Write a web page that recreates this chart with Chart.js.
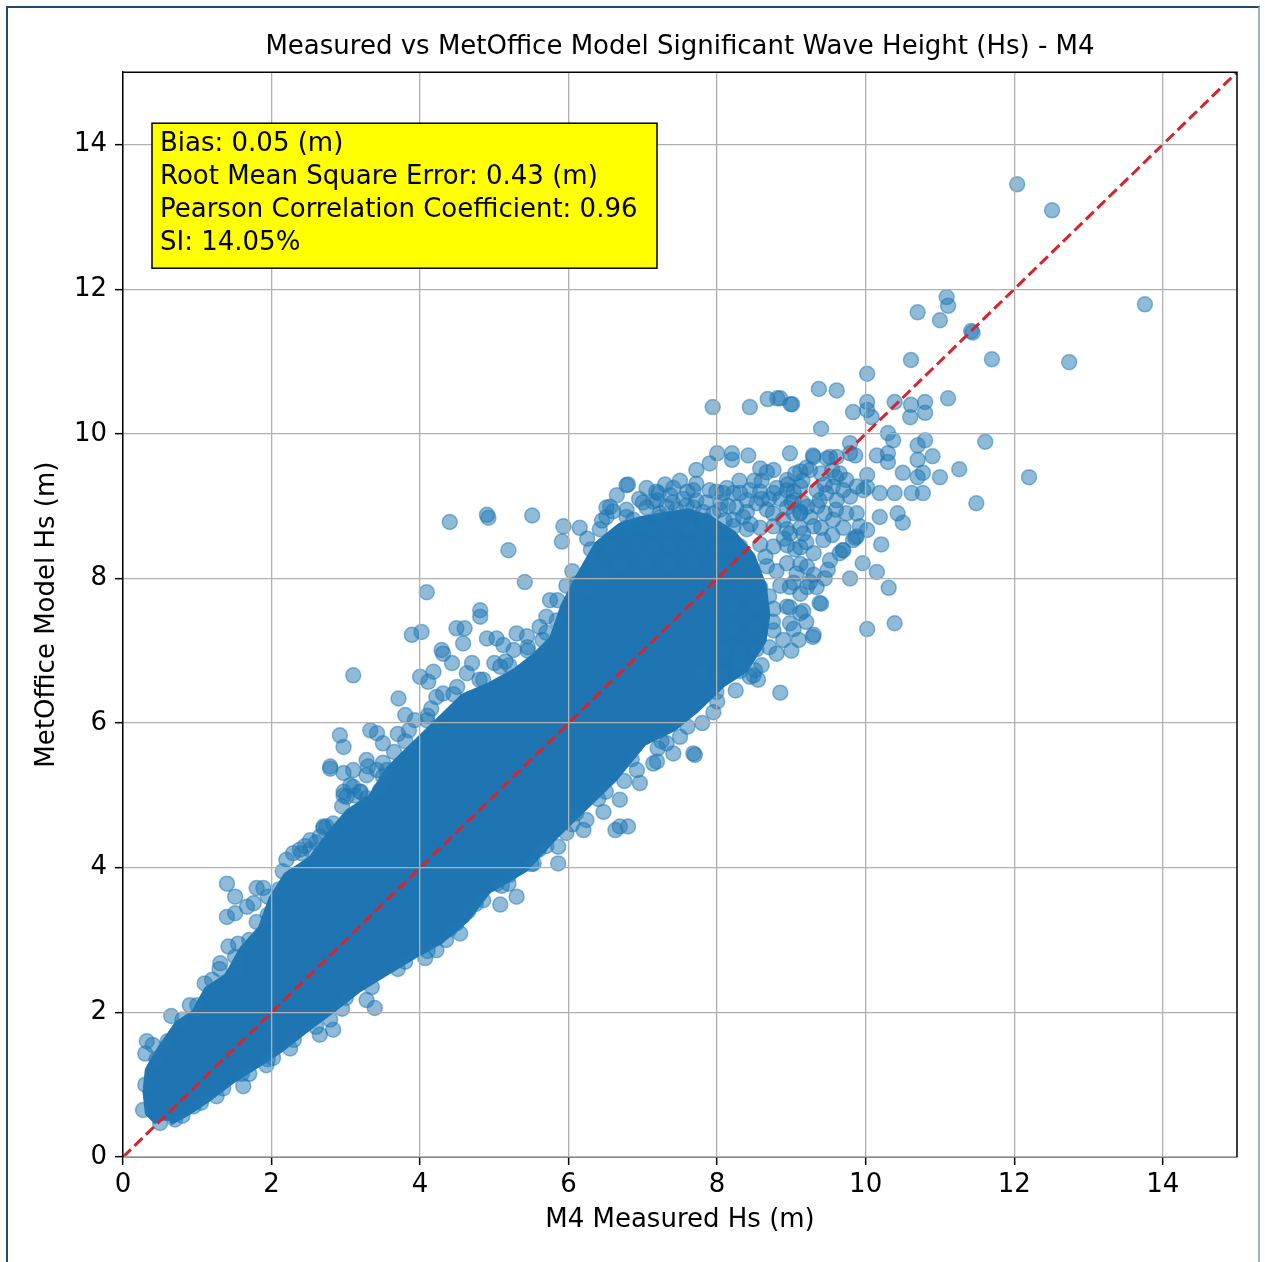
<!DOCTYPE html>
<html>
<head>
<meta charset="utf-8">
<script src="https://cdn.jsdelivr.net/npm/chart.js@4.4.1/dist/chart.umd.min.js"></script>
<style>
 html,body{margin:0;padding:0;background:#fff;}
 #wrap{position:relative;width:1265px;height:1262px;}
 #frame{position:absolute;left:6px;top:6px;width:1250px;height:1262px;border-left:2px solid #24466f;border-top:2px solid #24466f;border-right:2px solid #9fb2c6;pointer-events:none;}
</style>
</head>
<body>
<div id="wrap"><canvas id="chart"></canvas><div id="frame"></div></div>
<script>

// axis ticks (both axes use the same values)
const tickValues = [0, 2, 4, 6, 8, 10, 12, 14];
const axisMin = 0, axisMax = 15;

// 1:1 reference line, measured = model
const refLine = [0, 15];

// text in the yellow box
const statLines = [
 "Bias: 0.05 (m)",
 "Root Mean Square Error: 0.43 (m)",
 "Pearson Correlation Coefficient: 0.96",
 "SI: 14.05%"
];

// outline of the solid (fully overlapped) part of the cloud: [measured, model]
const corePolygon = [
 [0.48,0.50],[0.36,0.62],[0.33,0.90],[0.36,1.20],[0.52,1.48],[0.75,1.82],[0.98,1.98],
 [1.15,2.30],[1.42,2.48],[1.62,2.85],[1.88,3.15],[2.02,3.55],[2.22,3.88],[2.55,4.10],
 [2.80,4.45],[3.05,4.75],[3.35,4.95],[3.60,5.35],[3.90,5.65],[4.25,6.00],[4.60,6.35],
 [4.95,6.50],[5.30,6.70],[5.55,6.90],[5.80,7.15],[5.95,7.60],[6.15,8.00],[6.40,8.45],
 [6.70,8.70],[7.00,8.80],[7.30,8.85],[7.60,8.90],[7.90,8.80],[8.20,8.60],[8.45,8.30],
 [8.60,7.90],[8.65,7.50],[8.60,7.15],[8.45,6.90],[8.35,6.75],[8.05,6.55],[7.70,6.20],
 [7.40,5.95],[7.00,5.75],[6.60,5.25],[6.20,4.85],[5.80,4.45],
 [5.40,4.00],[4.90,3.70],[4.60,3.30],[4.25,3.00],[3.90,2.80],[3.50,2.55],[3.15,2.33],
 [2.80,2.05],[2.45,1.78],[2.10,1.50],[1.80,1.30],[1.45,1.07],[1.10,0.80],[0.85,0.63],[0.62,0.50]
];

// sparse points, top right
const topRightPts = [
 [12.04,13.45],[12.51,13.09],[11.09,11.89],[11.11,11.77],[10.70,11.68],[11.00,11.57],[11.42,11.42],
 [11.44,11.40],[13.76,11.79],[10.61,11.02],[11.70,11.03],[12.74,10.99],[10.02,10.83],[10.02,10.44],
 [10.02,10.33],[10.08,10.23],[9.83,10.30],[10.39,10.44],[10.61,10.40],[10.80,10.44],[10.80,10.29],
 [10.60,10.23],[11.11,10.49],[10.30,10.01],[10.37,9.91],[10.30,9.73],[10.30,9.61],[10.15,9.70],
 [9.79,9.87],[9.86,9.70],[10.70,9.84],[10.80,9.91],[10.70,9.64],[10.90,9.69],[11.61,9.89],
 [10.50,9.46],[10.70,9.40],[10.77,9.46],[11.00,9.40],[11.26,9.51],[12.20,9.40],[10.02,9.43],
 [10.02,9.26],[11.49,9.04],[9.37,10.62],[9.61,10.60],[9.01,10.41],[8.85,10.49],[9.40,10.07]
];

// cluster right of the line, 9-10.5 m
const rightClusterPts = [
 [10.77,9.18],[10.62,9.18],[10.39,9.18],[10.19,9.18],[10.19,8.85],[10.43,8.90],[10.50,8.77],
 [10.02,8.67],[10.21,8.47],[9.86,8.56],[9.69,8.39],[9.49,8.12],[9.96,8.21],[10.15,8.09],
 [9.79,8.00],[10.31,7.87],[9.40,7.65],[10.02,7.30],[10.39,7.38],[9.29,7.19],[8.85,6.42],
 [8.94,9.36],[9.12,9.27],[9.30,9.68],[9.52,9.68],[9.65,9.45],[9.74,9.36],[9.56,9.27],
 [9.47,9.18],[9.70,9.22],[9.79,9.13],[9.88,9.27],[9.97,9.22],[9.61,9.08],[9.38,9.08],
 [9.21,8.99],[9.03,8.90],[8.89,8.81],[8.98,8.62],[9.16,8.62],[9.30,8.72],[9.43,8.53],
 [9.56,8.81],[9.74,8.90],[9.88,8.90],[9.92,8.72],[9.83,8.53],[9.65,8.35],[9.52,8.25],
 [9.30,8.35],[9.21,8.16],[9.07,8.07],[8.98,7.88],[9.12,7.79],[9.34,7.88],[8.94,7.61],
 [8.98,7.38],[9.12,7.52],[8.89,7.15],[9.38,7.66],[9.70,8.39],[9.88,8.58],
 [8.98,9.73],[9.29,9.70],[9.48,9.66],[9.61,9.68],[9.79,9.73],
 [8.85,9.10],[8.95,9.30],[9.05,9.45],[9.15,9.35],[9.25,9.50],[9.40,9.45],[9.45,9.30],
 [9.55,9.50],[9.60,9.40],[9.35,9.00],[9.45,8.90],[9.25,8.85],[9.15,9.05],[9.00,9.05],
 [8.75,8.90],[8.70,9.10],[8.60,9.35],[9.60,8.95],[9.70,8.70],[9.55,8.60],[9.40,8.70],
 [8.90,8.55],[9.05,8.40],[9.20,8.50],
 [9.00,7.00],[9.10,7.15],[9.20,7.40],[9.25,7.95],[9.30,8.05],[9.45,8.00]
];

// semi dense band above the core, 6-9 m
const upperBandPts = [
 [7.94,10.37],[8.44,10.37],[8.68,10.48],[8.81,10.49],[8.99,10.41],[8.00,9.73],[8.20,9.73],
 [8.42,9.70],[8.20,9.64],[7.90,9.59],[6.80,9.30],
 [7.72,9.50],[8.58,9.52],[8.67,9.47],[8.76,9.50],[9.12,9.48],[9.20,9.53],
 [7.18,9.20],[7.41,9.25],[7.68,9.22],[7.99,9.20],[8.13,9.25],[8.31,9.18],[8.44,9.22],
 [8.58,9.20],[8.80,9.25],[9.03,9.20],[9.34,9.22],
 [6.51,8.98],[6.60,8.93],[6.78,8.95],[7.05,8.98],[7.23,8.90],[7.45,8.95],[7.68,8.98],
 [7.81,8.92],[8.04,8.95],[8.26,8.98],[8.40,8.92],[8.67,8.95],[8.94,8.98],[9.12,8.92],
 [5.93,8.72],[6.15,8.70],[6.42,8.68],[6.78,8.70],[6.96,8.72],[7.14,8.68],[7.32,8.70],
 [7.59,8.72],[7.77,8.66],[7.95,8.70],[8.22,8.72],[8.40,8.68],[8.58,8.70],[8.76,8.72],
 [8.94,8.68],[9.12,8.70],
 [6.56,8.45],[6.92,8.48],[7.14,8.42],[7.36,8.47],[7.59,8.45],[7.77,8.48],[7.99,8.42],
 [8.17,8.46],[8.31,8.44],[8.58,8.47],[8.76,8.44],[8.94,8.46],[9.12,8.43],
 [6.33,8.22],[6.69,8.18],[7.05,8.25],[7.36,8.20],[7.68,8.24],[8.04,8.18],[8.40,8.22],
 [8.67,8.17],[8.94,8.21],[9.12,8.20],
 [8.31,7.92],[8.58,7.88],[8.85,7.90],[9.03,7.94],[9.21,7.88],
 [8.22,7.60],[8.49,7.62],[8.76,7.58],[8.98,7.60],[9.16,7.55],
 [8.22,7.30],[8.49,7.33],[8.76,7.28],[9.03,7.30],[9.30,7.22],
 [8.08,7.00],[8.31,6.98],[8.53,7.02],[8.80,6.96],
 [7.81,6.70],[8.04,6.68],[8.31,6.72],[8.49,6.66],
 [6.78,9.29],[7.21,9.18],[7.37,9.15],[7.14,9.06],[7.32,8.99],[6.51,8.85],[6.78,8.85],
 [7.23,8.85],[7.59,9.01],[7.72,9.08],[6.56,8.99],[6.87,8.81],[7.19,9.08],[7.50,8.76],
 [7.63,8.67],[7.90,9.22],[7.72,9.31],[7.95,8.90],[8.08,9.18],[8.22,9.18],[8.22,8.81],
 [8.40,9.08],[8.53,9.04],[8.76,9.18],[8.94,9.22],[9.03,9.08],[9.12,8.90],
 [6.11,7.93],[6.24,7.84],[6.42,8.07],[5.75,7.70],[5.97,7.90],
 [7.30,9.30],[7.50,9.35],[7.60,9.20],[7.85,9.05],[8.05,9.05],[8.30,9.35],[8.50,9.35],
 [8.60,9.10],[8.35,8.85],[8.10,8.80],[7.85,8.80],[7.40,9.05],[6.95,9.10],[7.05,9.25],[6.65,9.15],
 [8.70,7.75],[8.75,7.40],[8.70,7.05],[8.60,6.80],[8.80,8.10],[8.65,8.30],
 [6.25,8.55],[6.45,8.80],[7.00,9.05],[7.55,9.10],[8.15,9.00],[8.45,8.75]
];

// points along the upper-left edge (model above measured)
const upperEdgePts = [
 [4.40,8.78],[4.90,8.88],[4.92,8.84],[5.51,8.87],[5.19,8.39],[5.91,8.51],[5.41,7.95],
 [4.09,7.81],[3.10,6.66],[4.81,7.56],[4.81,7.47],[3.89,7.22],[4.02,7.26],[4.49,7.31],
 [4.60,7.31],[4.58,7.10],[4.29,7.01],[4.31,6.96],[4.43,6.83],[4.70,6.83],[4.90,7.17],
 [5.03,7.17],[5.12,7.08],[5.26,7.01],[5.30,7.24],[5.44,7.20],[5.61,7.33],[5.70,7.47],
 [5.84,7.42],[5.00,6.83],[5.08,6.78],[4.00,6.64],[4.11,6.57],[4.18,6.71],[3.71,6.34],
 [4.22,6.36],[4.31,6.41],[3.80,6.11],[3.93,6.04],[4.09,6.04],[4.63,6.69],[2.92,5.83],
 [2.97,5.67],[3.33,5.90],[3.42,5.86],[3.50,5.72],[2.79,5.40],[2.97,5.31],[3.10,5.35],
 [3.28,5.49],[3.30,5.40],[3.06,5.14],[3.12,5.00],[2.97,5.00],[3.28,4.96],[2.70,4.57],
 [2.83,4.61],[2.52,4.38],[2.38,4.25],[3.42,5.35],[3.55,5.21],[3.46,5.07],
 [1.40,3.78],[1.51,3.60],[1.51,3.37],[1.40,3.32],[1.80,3.72],[1.89,3.72],[1.67,3.46],
 [1.76,3.51],[1.42,2.91],[1.51,2.77],[1.31,2.68],[0.32,1.60],[0.30,1.43],[0.30,1.00],
 [0.27,0.65],[2.20,4.11],[2.29,4.20],[2.52,4.25],[2.79,5.37],[3.10,5.12],[2.97,5.05],
 [3.19,5.05],[3.01,4.98],[2.65,4.43],[2.74,4.57],[3.28,5.28],[3.50,5.26],[3.55,5.35],
 [3.65,5.60],[3.70,5.85],[3.85,5.90],[4.15,6.20],[4.45,6.40],[4.80,6.60],[5.15,6.85],
 [5.45,7.00],[5.65,7.15],[2.45,4.30],[2.60,4.35],[1.00,2.10],[1.20,2.45],[1.55,2.60],
 [1.70,3.00],[1.95,3.35],[2.10,3.70],[0.60,1.60],[0.45,1.35],[0.80,1.90],
 [0.40,1.55],[0.65,1.95],[0.90,2.10],[1.10,2.40],[1.30,2.60],[1.55,2.95],[1.80,3.25],
 [1.95,3.60],[2.15,3.95],[2.40,4.20],[2.70,4.55],[2.95,4.85],[3.20,5.05],[3.50,5.45],
 [3.80,5.75],[4.10,6.10],[4.50,6.50],[4.85,6.60],[5.20,6.80],[5.45,7.05],[5.70,7.25],
 [5.85,7.70],[6.05,8.10],[6.30,8.40]
];

// points along the lower-right edge (model below measured)
const lowerEdgePts = [
 [8.44,6.64],[8.51,6.73],[8.28,6.85],[7.99,6.43],[7.70,5.56],[7.50,5.81],[7.14,5.44],
 [7.41,5.58],[7.32,5.72],[7.68,5.58],[7.19,5.47],[6.92,5.35],[6.96,5.17],[6.69,4.94],
 [6.47,4.77],[6.69,4.57],[6.80,4.57],[6.63,4.52],[6.24,4.66],[6.20,4.52],[5.97,4.48],
 [5.86,4.29],[5.86,4.06],[5.53,4.06],
 [5.08,3.49],[5.19,3.78],[5.30,3.60],[5.03,3.78],[4.07,2.75],[4.22,2.86],[4.49,3.23],
 [4.54,3.09],[3.28,2.17],[3.39,2.06],[2.83,1.76],[2.65,1.69],[2.79,1.90],[1.93,1.27],
 [2.02,1.37],[1.62,0.98],[1.26,0.84],
 [7.80,6.00],[8.00,6.30],[7.20,5.65],[6.50,5.05],[6.10,4.75],[5.60,4.25],[5.20,3.90],
 [4.75,3.50],[4.40,3.15],[3.80,2.70],[3.00,2.20],[2.30,1.62],[1.60,1.15],[0.95,0.70],
 [0.70,0.52],[0.50,0.47],
 [8.55,6.60],[8.25,6.45],[7.95,6.15],[7.60,5.95],[7.25,5.75],[6.85,5.50],[6.75,5.20],
 [6.40,4.95],[6.05,4.60],[5.70,4.30],[5.50,4.05],[5.10,3.75],[4.85,3.55],[4.65,3.40],
 [4.35,3.00],[4.10,2.85],[3.70,2.60],[3.35,2.35],[2.95,2.05],[2.60,1.80],[2.25,1.50],
 [1.95,1.35],[1.70,1.15],[1.35,0.95],[1.05,0.75],[0.80,0.57]
];

const FONT = '"DejaVu Sans", sans-serif';
const dotColor = 'rgba(31,119,180,0.5)';
const toXY = p => ({x: p[0], y: p[1]});

const allPts = [].concat(topRightPts, rightClusterPts, upperBandPts, upperEdgePts, lowerEdgePts).map(toXY);

const frameAndBox = {
 id: 'frameAndBox',
 afterDraw(chart){
   const {ctx, chartArea: a} = chart;
   ctx.save();
   ctx.strokeStyle = '#000';
   ctx.lineWidth = 1.5;
   ctx.beginPath();
   ctx.moveTo(a.left, a.top);
   ctx.lineTo(a.right, a.top);
   ctx.lineTo(a.right, a.bottom);
   ctx.stroke();

   const bx = a.left + 29, by = a.top + 51, bw = 505, bh = 145;
   ctx.fillStyle = '#ffff00';
   ctx.fillRect(bx, by, bw, bh);
   ctx.strokeRect(bx, by, bw, bh);
   ctx.fillStyle = '#000';
   ctx.font = '26px ' + FONT;
   ctx.textBaseline = 'middle';
   statLines.forEach((t, i) => ctx.fillText(t, bx + 8, by + 21 + i * 33));
   ctx.restore();
 }
};

function axisOpts(label, isX){
 return {
   type: 'linear',
   min: axisMin,
   max: axisMax,
   afterBuildTicks: s => { s.ticks = tickValues.map(v => ({value: v})); },
   afterFit: s => { if(isX) s.height = 105; else s.width = 123; },
   ticks: { font: {family: FONT, size: 26}, color: '#000', padding: isX ? 5 : 8, includeBounds: false },
   grid: { color: '#b0b0b0', lineWidth: 1.3, tickColor: '#000', tickLength: 8, tickWidth: 1.5, z: 1 },
   border: { color: '#000', width: 1.5, z: 1 },
   title: {
     display: true, text: label, color: '#000',
     font: {family: FONT, size: 26},
     padding: isX ? {top: 0, bottom: 26} : {top: 32, bottom: 0}
   }
 };
}

new Chart(document.getElementById('chart'), {
 type: 'scatter',
 data: {
   datasets: [
     {
       type: 'line',
       data: refLine.map(v => ({x: v, y: v})),
       borderColor: '#d8232d',
       borderWidth: 3,
       borderDash: [11, 5],
       pointRadius: 0,
       fill: false,
       order: 0
     },
     {
       data: allPts,
       backgroundColor: dotColor,
       borderColor: dotColor,
       borderWidth: 1.5,
       pointRadius: 7.5,
       order: 1
     },
     {
       type: 'line',
       data: corePolygon.map(toXY),
       fill: 'shape',
       backgroundColor: '#1f75b2',
       borderColor: '#1f75b2',
       borderWidth: 10,
       borderJoinStyle: 'round',
       pointRadius: 0,
       tension: 0,
       order: 2
     }
   ]
 },
 options: {
   responsive: true,
   maintainAspectRatio: false,
   animation: false,
   layout: { padding: {top: 0, left: 0, right: 28, bottom: 0} },
   plugins: {
     legend: { display: false },
     tooltip: { enabled: false },
     title: {
       display: true,
       fullSize: false,
       text: 'Measured vs MetOffice Model Significant Wave Height (Hs) - M4',
       color: '#000',
       font: {family: FONT, size: 26, weight: 'normal'},
       padding: {top: 32, bottom: 9}
     }
   },
   scales: {
     x: axisOpts('M4 Measured Hs (m)', true),
     y: axisOpts('MetOffice Model Hs (m)', false)
   }
 },
 plugins: [frameAndBox]
});
</script>
</body>
</html>
